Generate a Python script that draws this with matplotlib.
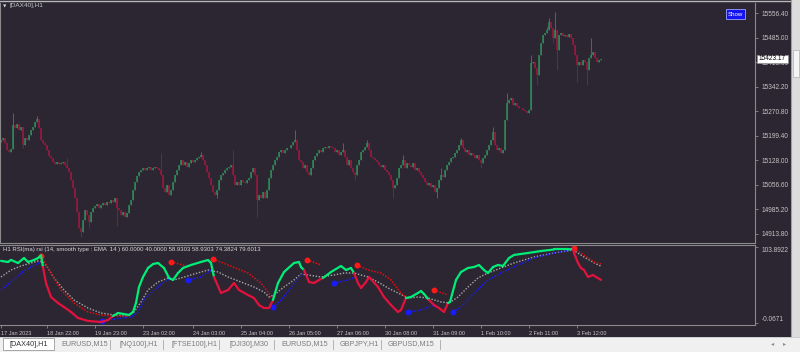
import numpy as np
import matplotlib.pyplot as plt
from matplotlib.collections import LineCollection
from matplotlib.patches import Rectangle

plt.rcParams['font.family'] = ['Liberation Sans', 'DejaVu Sans']

# DAX40 H1 closes, one per bar
closes = [
    15186, 15192, 15178, 15157, 15151, 15160, 15230, 15221, 15233, 15216,
    15224, 15172, 15192, 15186, 15201, 15216, 15224, 15239, 15248, 15221,
    15186, 15178, 15172, 15157, 15140, 15134, 15122, 15116, 15122, 15116,
    15119, 15122, 15113, 15105, 15093, 15070, 15046, 15017, 14977, 14930,
    14918, 14953, 14982, 14968, 14947, 14977, 14988, 14994, 15000, 14988,
    14997, 15003, 14997, 15006, 15003, 15011, 15006, 15017, 14988, 14982,
    14968, 14977, 14962, 14974, 14997, 15011, 15041, 15064, 15081, 15093,
    15099, 15105, 15099, 15105, 15108, 15099, 15105, 15108, 15105, 15099,
    15084, 15046, 15035, 15055, 15026, 15041, 15064, 15084, 15099, 15113,
    15128, 15113, 15122, 15108, 15119, 15128, 15122, 15128, 15134, 15137,
    15143, 15128, 15113, 15093, 15076, 15055, 15035, 15026, 15041, 15070,
    15084, 15090, 15099, 15105, 15108, 15113, 15084, 15055, 15064, 15055,
    15070, 15064, 15061, 15070, 15076, 15093, 15105, 15084, 15011, 15026,
    15017, 15035, 15017, 15041, 15076, 15099, 15113, 15128, 15137, 15151,
    15157, 15148, 15157, 15163, 15163, 15172, 15181, 15186, 15157, 15128,
    15122, 15105, 15113, 15093, 15084, 15105, 15128, 15140, 15148, 15157,
    15151, 15163, 15166, 15163, 15169, 15166, 15163, 15151, 15157, 15143,
    15151, 15157, 15137, 15113, 15128, 15105, 15093, 15084, 15113, 15128,
    15151, 15157, 15166, 15178, 15157, 15137, 15134, 15128, 15122, 15113,
    15108, 15113, 15099, 15093, 15084, 15070, 15046, 15055, 15076, 15105,
    15113, 15128, 15105, 15119, 15113, 15108, 15119, 15099, 15105, 15093,
    15084, 15076, 15064, 15055, 15061, 15049, 15055, 15035, 15046, 15070,
    15084, 15079, 15099, 15113, 15122, 15134, 15137, 15148, 15157, 15172,
    15186, 15163, 15151, 15157, 15143, 15148, 15143, 15134, 15143, 15128,
    15119, 15134, 15143, 15157, 15172, 15186, 15210, 15172, 15157, 15163,
    15148, 15157, 15245, 15294, 15303, 15309, 15288, 15294, 15285, 15280,
    15280, 15274, 15271, 15265, 15274, 15411, 15414, 15396, 15376, 15434,
    15469, 15492, 15498, 15507, 15530, 15513, 15484, 15507, 15449, 15492,
    15498, 15489, 15492, 15486, 15495, 15484, 15463, 15434, 15405, 15414,
    15405, 15420, 15414, 15390, 15425, 15434, 15443, 15425, 15414, 15420,
    15423.17,
]
first_open = 15180
# long wicks that stick out of the bodies
wick_high = {6: 15265, 18: 15256, 33: 15134, 80: 15148, 100: 15151, 116: 15157,
             147: 15216, 171: 15178, 183: 15186, 201: 15143, 220: 15105,
             230: 15192, 246: 15224, 253: 15323, 265: 15434, 273: 15516,
             274: 15542, 277: 15559, 295: 15484}
wick_low = {11: 15163, 40: 14904, 44: 14930, 58: 14936, 108: 15017, 128: 14962,
            177: 15070, 196: 15017, 218: 15017, 240: 15105, 268: 15347,
            276: 15469, 278: 15390, 288: 15355, 293: 15347}
last_price = 15423.17

price_ticks = [15556.40, 15485.00, 15413.60, 15342.20, 15270.80,
               15199.40, 15128.00, 15056.60, 14985.20, 14913.80]

date_bars = [0, 23, 47, 71, 96, 120, 144, 168, 192, 216, 240, 264, 288]
date_labels = ["17 Jan 2023", "18 Jan 22:00", "19 Jan 23:00", "23 Jan 02:00",
               "24 Jan 03:00", "25 Jan 04:00", "26 Jan 05:00", "27 Jan 06:00",
               "30 Jan 08:00", "31 Jan 09:00", "1 Feb 10:00", "2 Feb 11:00",
               "3 Feb 12:00"]

# RSI(ma) subwindow
rsi_x = [0, 3.5, 5, 8.5, 11.5, 13.5, 16.5, 18.5, 20, 21, 22.5, 25, 28.5, 31.5,
         35, 38.5, 43.5, 50, 53.5, 56, 58.5, 61.5, 64, 66, 67.5, 69, 71, 73.5,
         76, 78.5, 81.5, 84, 86, 88.5, 91, 95, 100, 103.5, 105, 106.5, 110,
         113.5, 116.5, 119, 123.5, 126.5, 129, 131.5, 134, 136, 138.5, 141.5,
         146.5, 149, 150, 151.5, 154, 156.5, 159, 161, 165, 170, 172.5, 175,
         176.5, 178.5, 180, 182.5, 184, 188.5, 191.5, 195, 198.5, 200, 202.5,
         205, 208.5, 210, 211.5, 214, 216.5, 219, 221.5, 223.5, 224.5, 227.5,
         230, 233.5, 236.5, 239, 241.5, 243.5, 246, 248.5, 251, 254, 256.5,
         263.5, 270, 276.5, 283.5, 286, 286.5, 288.5, 290, 291.5, 293.5, 296, 300]
rsi_v = [84.9, 83.4, 86.2, 82.0, 88.8, 83.4, 86.1, 88.8, 92.3, 76.5, 54.6, 35.5,
         27.3, 21.8, 15.0, 6.8, 2.7, 1.3, 4.0, 9.5, 13.6, 12.2, 10.9, 15.0, 27.3,
         49.2, 62.9, 75.2, 80.6, 82.0, 75.2, 61.5, 58.8, 68.3, 75.2, 79.3, 83.4,
         86.1, 82.0, 62.9, 41.0, 45.1, 54.6, 45.1, 38.2, 34.1, 24.5, 20.4, 20.4,
         31.4, 54.6, 69.7, 82.0, 83.4, 76.5, 72.4, 56.0, 54.6, 58.8, 61.5, 69.7,
         77.9, 72.4, 75.2, 68.3, 54.6, 47.8, 56.0, 62.9, 49.2, 35.5, 24.5, 15.0,
         17.7, 34.1, 35.5, 41.0, 43.7, 39.6, 31.4, 24.5, 20.4, 15.0, 27.3, 28.7,
         58.8, 69.7, 75.2, 76.5, 79.3, 72.4, 68.3, 76.5, 79.3, 77.9, 88.8, 93.0,
         95.7, 98.4, 100.5, 100.5, 101.2, 95.7, 82.0, 75.2, 72.4, 62.9, 65.6, 58.8]
sig_x = [0, 5, 10, 15, 18.5, 21, 23.5, 26.5, 31.5, 36.5, 43.5, 50, 56.5, 63.5,
         66.5, 70, 73.5, 78.5, 83.5, 86.5, 90, 96.5, 103.5, 108.5, 113.5, 120,
         126.5, 131.5, 134, 136.5, 141.5, 146.5, 150, 153.5, 160, 166.5, 171.5,
         176.5, 183.5, 188.5, 193.5, 198.5, 203.5, 208.5, 213.5, 220, 224, 228.5,
         233.5, 238.5, 243.5, 250, 256.5, 266.5, 276.5, 286, 291.5, 298.5, 300]
sig_v = [62.9, 72.4, 77.9, 82.0, 84.7, 83.4, 75.2, 61.5, 45.1, 31.4, 20.4, 13.6,
         10.9, 9.5, 15.0, 28.7, 45.1, 56.0, 61.5, 58.8, 61.5, 66.9, 72.4, 69.7,
         62.9, 56.0, 49.2, 42.3, 35.5, 38.2, 49.2, 58.8, 66.9, 65.6, 62.9, 65.6,
         68.3, 68.3, 62.9, 56.0, 47.8, 41.0, 34.1, 35.5, 34.1, 28.7, 27.3, 35.5,
         49.2, 61.5, 68.3, 75.2, 82.0, 90.2, 95.7, 99.8, 90.2, 79.3, 77.9]

red_trails = [
    [(20, 92.0), (25, 68.3), (30, 45.1), (36.5, 27.3), (43.5, 15.0), (50, 10.9), (58.5, 9.5), (65, 9.5)],
    [(85, 83.8), (92.5, 77.9)],
    [(106, 87.5), (113.5, 79.3), (123.5, 68.3), (130, 54.6), (133.5, 42.3), (135, 35.5)],
    [(153, 86.1), (160, 79.3)],
    [(178, 79.3), (183.5, 72.4), (190, 68.3), (195, 58.8), (200, 41.0), (203, 34.1)],
    [(216.3, 45.1), (223.5, 38.2)],
    [(286.3, 102.1), (291.5, 93.0), (296.5, 83.4), (300, 80.6)],
]
blue_trails = [
    [(0, 45.1), (5, 56.0), (10, 68.3), (15, 76.5), (20, 83.4)],
    [(50.5, 2.7), (56.5, 5.4), (65, 8.1), (68.5, 15.0), (71.5, 31.4), (76.5, 45.1), (81.5, 56.0), (85, 61.5)],
    [(93.5, 58.8), (100, 62.9), (105, 72.4)],
    [(136, 21.8), (140, 31.4), (145, 49.2), (150, 65.6), (151.5, 68.3)],
    [(166.5, 54.6), (173.5, 58.8), (177.5, 62.9)],
    [(203.5, 15.0), (210, 17.7), (215, 23.2), (218.5, 25.9)],
    [(226, 15.0), (230, 21.8), (236.5, 41.0), (243.5, 58.8), (250, 68.3), (258.5, 79.3), (266.5, 88.8), (276.5, 95.7), (285, 99.8)],
]
blue_has_dot = [False, True, True, True, True, True, True]

rsi_header = "H1 RSI(ma) rsi (14, smooth type : EMA  14 ) 60.0000 40.0000 58.9303 58.9303 74.3824 79.6013"
tabs = ["EURUSD,M15", "[NQ100],H1", "[FTSE100],H1", "[DJI30],M30",
        "EURUSD,M15", "GBPJPY,H1", "GBPUSD,M15"]
tab_x = [61, 119, 172, 229, 281, 340, 388]
sep_x = [110, 163, 219, 274, 333, 381, 440]

BG = '#2b2632'
UP = '#2e8b57'
DN = '#a0163f'
GRID = '#8a8a8a'
TXT = '#c4c4c4'

fig = plt.figure(figsize=(8, 3.52), dpi=100, facecolor=BG)
ax = fig.add_axes([0, 1 - 243 / 352, 755 / 800, 240 / 352], facecolor=BG)
ax2 = fig.add_axes([0, 1 - 325 / 352, 755 / 800, 80 / 352], facecolor=BG)

# candles
c = np.array(closes, dtype=float)
o = np.r_[first_open, c[:-1]]
hi = np.maximum(o, c)
lo = np.minimum(o, c)
for i, v in wick_high.items():
    hi[i] = max(hi[i], v)
for i, v in wick_low.items():
    lo[i] = min(lo[i], v)
x = np.arange(len(c))
up = c >= o
for m, col in [(up, UP), (~up, DN)]:
    ax.vlines(x[m], lo[m], hi[m], color=col, lw=0.6)
    ax.vlines(x[m], o[m], c[m], color=col, lw=1.1)

ax.set_xlim(-0.5, 377)
ax.set_ylim(14886.2, 15585.6)
ax.set_xticks([])
ax.yaxis.tick_right()
ax.set_yticks(price_ticks)
ax.set_yticklabels([f"{p:.2f}" for p in price_ticks])
ax.tick_params(axis='y', direction='out', length=2.5, width=0.6, color=GRID,
               labelcolor=TXT, labelsize=4.7, pad=2)
for s in ['top']:
    ax.spines[s].set_visible(False)
for s in ['right', 'bottom', 'left']:
    ax.spines[s].set_color(GRID)
    ax.spines[s].set_linewidth(0.8)

# RSI panel
rx = np.array(rsi_x)
rv = np.array(rsi_v)
pts = np.column_stack([rx, rv]).reshape(-1, 1, 2)
segs = np.concatenate([pts[:-1], pts[1:]], axis=1)
mid_x = (rx[:-1] + rx[1:]) / 2
mid_v = (rv[:-1] + rv[1:]) / 2
above = mid_v >= np.interp(mid_x, sig_x, sig_v)
cols = ['#00ee78' if a else '#e3123d' for a in above]
ax2.plot(sig_x, sig_v, color='#a8a8a8', lw=1.0, ls=(0, (1, 1.2)))
for tr in red_trails:
    tx, tv = zip(*tr)
    ax2.plot(tx, tv, color='#e01010', lw=1.1, ls=(0, (1, 1)))
    ax2.plot(tx[0], tv[0], 'o', color='#ff1a1a', ms=3.2)
for tr, dot in zip(blue_trails, blue_has_dot):
    tx, tv = zip(*tr)
    ax2.plot(tx, tv, color='#1a1aff', lw=1.1, ls=(0, (1, 1)))
    if dot:
        ax2.plot(tx[0], tv[0], 'o', color='#1a1aff', ms=3.2)
ax2.add_collection(LineCollection(segs, colors=cols, lw=1.6, capstyle='round'))

ax2.set_xlim(-0.5, 377)
ax2.set_ylim(-2.81, 106.63)
ax2.yaxis.tick_right()
ax2.set_yticks([103.8922, -0.0671])
ax2.set_yticklabels(["103.8922", "-0.0671"])
yl = ax2.get_yticklabels()
yl[0].set_va('top')
yl[1].set_va('bottom')
ax2.tick_params(axis='y', direction='out', length=2.5, width=0.6, color=GRID,
                labelcolor=TXT, labelsize=4.7, pad=2)
ax2.set_xticks(date_bars)
ax2.set_xticklabels(date_labels, ha='left')
ax2.tick_params(axis='x', direction='out', length=2.5, width=0.6, color=GRID,
                labelcolor=TXT, labelsize=4.0, pad=1.5)
ax2.spines['left'].set_visible(False)
for s in ['right', 'bottom', 'top']:
    ax2.spines[s].set_color(GRID)
    ax2.spines[s].set_linewidth(0.8)
ax2.text(3, 249.5, rsi_header, transform=None, fontsize=4.3, color='#d8d8d8', va='center')

# overlay in pixel coordinates
ov = fig.add_axes([0, 0, 1, 1], zorder=10)
ov.set_xlim(0, 800)
ov.set_ylim(352, 0)
ov.axis('off')
ov.patch.set_visible(False)

ax2.texts[-1].remove()
ov.text(3, 250, rsi_header, fontsize=4.3, color='#d8d8d8', va='center')
ov.plot([0, 790], [0.6, 0.6], color='#b8b8b8', lw=1.0)
ov.text(3, 6, "\u25BC", fontsize=3.2, color='#d8d8d8', va='center', family='DejaVu Sans')
ov.text(9, 6, "[DAX40],H1", fontsize=4.6, color='#c8c8c8', va='center')

# Show button
ov.add_patch(Rectangle((726, 9), 19, 10, facecolor='#1414f0', edgecolor='#9aa0ff', lw=0.6))
ov.text(735.5, 14, "Show", fontsize=4.4, color='white', ha='center', va='center')

# current price box
ov.add_patch(Rectangle((757, 55), 31, 8, facecolor='white', edgecolor='#909090', lw=0.5))
ov.text(758.5, 59, f"{last_price:.2f}", fontsize=4.7, color='black', va='center')

# scrollbar strip on the right
ov.add_patch(Rectangle((791, 0), 9, 337, facecolor='#dcdcdc', edgecolor='none'))
ov.plot([791, 791], [0, 337], color='#a0a0a0', lw=0.8)
ov.add_patch(Rectangle((792.5, 50), 6, 27, facecolor='#f4f4f4', edgecolor='#b0b0b0', lw=0.5))

# tab bar
ov.add_patch(Rectangle((0, 337), 800, 15, facecolor='#f0f0f0', edgecolor='none'))
ov.plot([0, 800], [337.3, 337.3], color='#c8c8c8', lw=0.6)
ov.add_patch(Rectangle((3, 337.5), 51, 12.5, facecolor='white', edgecolor='#9a9a9a', lw=0.6))
ov.text(28.5, 344, "[DAX40],H1", fontsize=5.2, color='#303030', ha='center', va='center')
for t, tx in zip(tabs, tab_x):
    ov.text(tx, 344, t, fontsize=5.2, color='#7c7c7c', va='center')
for sx in sep_x:
    ov.plot([sx, sx], [339.5, 348.5], color='#a8a8a8', lw=0.6)
ov.text(773, 344, "\u25C2", fontsize=4.5, color='#8c8c8c', ha='center', va='center', family='DejaVu Sans')
ov.text(785, 344, "\u25B8", fontsize=4.5, color='#8c8c8c', ha='center', va='center', family='DejaVu Sans')

fig.savefig('out.png', dpi=100, facecolor=BG)
